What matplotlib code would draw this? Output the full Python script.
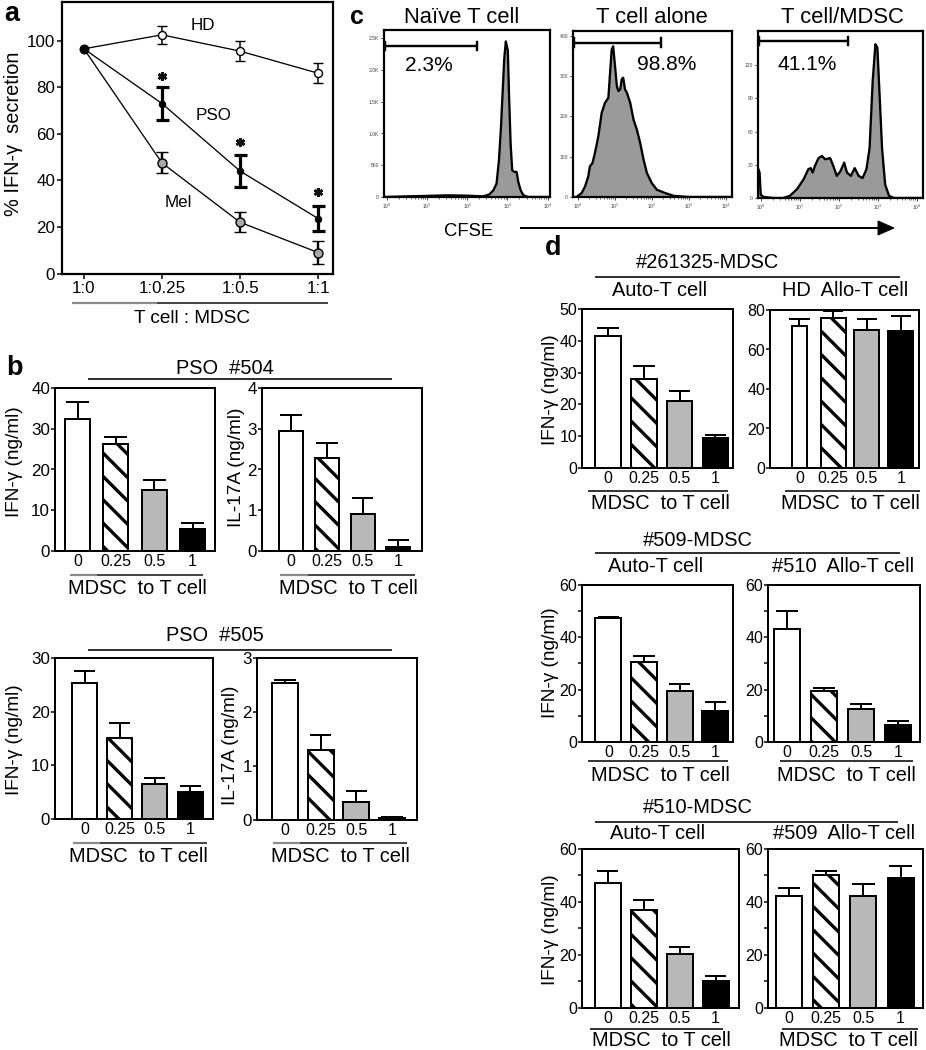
import matplotlib
matplotlib.use('Agg')
import matplotlib.pyplot as plt
from matplotlib.lines import Line2D
from matplotlib.patches import Polygon
import numpy as np

# ---------------- data ----------------
# panel a
a_ratio_labels = ['1:0', '1:0.25', '1:0.5', '1:1']
a_hd = [96.5, 102.5, 95.5, 86.0]
a_hd_err = [0, 4.0, 4.2, 4.3]
a_pso = [96.5, 73.0, 44.0, 23.6]
a_pso_err = [0, 7.0, 6.9, 5.2]
a_mel = [96.5, 47.5, 22.0, 9.0]
a_mel_err = [0, 4.5, 4.3, 5.0]
a_star_x = [1, 2, 3]
a_star_y = [84.7, 56.5, 35.0]

# panel b  (MDSC : T cell ratio)
ratio_labels = ['0', '0.25', '0.5', '1']
b504_ifn = [32.4, 26.2, 15.0, 5.3]
b504_ifn_err = [4.2, 1.8, 2.4, 1.5]
b504_il17 = [2.94, 2.27, 0.92, 0.10]
b504_il17_err = [0.40, 0.39, 0.37, 0.18]
b505_ifn = [25.3, 15.1, 6.6, 5.1]
b505_ifn_err = [2.2, 2.8, 1.0, 1.1]
b505_il17 = [2.53, 1.30, 0.34, 0.04]
b505_il17_err = [0.07, 0.28, 0.19, 0.02]

# panel d
d261325_auto = [41.6, 28.0, 21.1, 9.4]
d261325_auto_err = [2.4, 4.2, 3.0, 1.1]
d261325_allo = [71.7, 76.0, 70.0, 69.2]
d261325_allo_err = [3.9, 3.3, 5.6, 7.6]
d509_auto = [47.2, 30.6, 19.5, 11.8]
d509_auto_err = [0.6, 2.1, 2.8, 3.5]
d509_allo = [43.3, 19.4, 12.5, 6.4]
d509_allo_err = [6.7, 1.4, 2.2, 1.5]
d510_auto = [47.2, 37.1, 20.5, 10.3]
d510_auto_err = [4.4, 3.8, 2.5, 1.6]
d510_allo = [42.1, 50.3, 42.1, 49.0]
d510_allo_err = [3.2, 1.5, 4.7, 4.4]

# panel c  CFSE histograms (log10 fluorescence, event counts)
c_titles = ['Naïve T cell', 'T cell alone', 'T cell/MDSC']
c_percent = ['2.3%', '98.8%', '41.1%']
c1_logx = [-0.07, 1.5, 2.0, 2.4, 2.55, 2.65, 2.73, 2.79, 2.84, 2.88, 2.92, 2.96,
           3.01, 3.04, 3.08, 3.12, 3.17, 3.23, 3.27, 3.33, 3.40, 3.52, 4.06]
c1_count = [0, 26, 21, 10, 40, 105, 210, 580, 1100, 1630, 2160, 2450,
            2310, 1630, 840, 420, 395, 395, 240, 105, 26, 0, 0]
c2_logx = [-0.13, -0.04, 0.10, 0.19, 0.28, 0.32, 0.39, 0.46, 0.55, 0.64, 0.73, 0.82,
           0.86, 0.91, 0.95, 1.00, 1.05, 1.09, 1.14, 1.18, 1.22, 1.27, 1.32, 1.41,
           1.50, 1.59, 1.68, 1.77, 1.86, 1.99, 2.13, 2.35, 2.58, 3.00, 4.16]
c2_count = [0, 0, 10, 26, 52, 76, 84, 110, 151, 209, 234, 246,
            300, 366, 374, 325, 275, 263, 267, 292, 296, 267, 259, 234,
            192, 167, 134, 93, 60, 35, 18, 10, 3, 0, 0]
c3_logx = [-0.08, -0.04, -0.01, 0.06, 0.32, 0.57, 0.74, 0.92, 1.09, 1.21, 1.27, 1.32,
           1.38, 1.47, 1.56, 1.64, 1.77, 1.85, 1.94, 2.03, 2.13, 2.20, 2.30, 2.40,
           2.50, 2.60, 2.70, 2.78, 2.86, 2.93, 2.98, 3.04, 3.10, 3.18, 3.28, 3.40, 4.15]
c3_count = [27, 23, 3, 1, 0, 0, 2, 8, 17, 26, 27, 23,
            29, 36, 38, 35, 36, 29, 20, 24, 32, 23, 20, 27,
            20, 18, 26, 45, 106, 139, 136, 91, 45, 12, 2, 0, 0]
c1_yticks = [0, 500, 1000, 1500, 2000, 2500]
c1_yticklabels = ['0', '500', '1.0K', '1.5K', '2.0K', '2.5K']
c2_yticks = [0, 100, 200, 300, 400]
c3_yticks = [0, 30, 60, 90, 120]
c_gates = [(-0.04, 2.24), (-0.11, 2.24), (-0.05, 2.23)]

# ---------------- helpers ----------------
W, H = 926, 1050
DPI = 70


def pt(px):
    return px * 72.0 / DPI


plt.rcParams['font.family'] = ['Liberation Sans', 'DejaVu Sans']
plt.rcParams['hatch.linewidth'] = pt(3.3)
plt.rcParams['hatch.color'] = 'black'
plt.rcParams['axes.linewidth'] = pt(2)
plt.rcParams['mathtext.default'] = 'regular'

fig = plt.figure(figsize=((W + 0.01) / DPI, (H + 0.01) / DPI), dpi=DPI)
fig.patch.set_facecolor('white')


def add_ax(l, t, r, b):
    return fig.add_axes([l / W, 1 - b / H, (r - l) / W, (b - t) / H])


def ftext(x, y, s, px, ha='center', va='center', **kw):
    fig.text(x / W, 1 - y / H, s, fontsize=pt(px), ha=ha, va=va, **kw)


def fline(x0, x1, y, color='black', lw=1.6):
    fig.add_artist(Line2D([x0 / W, x1 / W], [1 - y / H, 1 - y / H],
                          color=color, lw=pt(lw), solid_capstyle='butt'))


def ratio_rule(x0, xg, x1, y, gray=True):
    if gray:
        fline(x0, xg, y, color='#8a8a8a', lw=2.2)
        fline(xg, x1, y, color='#333333', lw=1.8)
    else:
        fline(x0, x1, y, color='#222222', lw=1.8)


bar_faces = ['white', 'white', '#b8b8b8', 'black']
bar_hatches = ['', '\\', '', '']


def bar_panel(box, xlim, width, vals, errs, ylim, yticks, minor=None,
              tick_px=16, ytick_px=17):
    ax = add_ax(*box)
    x = np.arange(len(vals))
    w = np.broadcast_to(np.asarray(width, dtype=float), x.shape)
    bars = ax.bar(x, vals, width=w, color=bar_faces, edgecolor='black',
                  linewidth=pt(2), zorder=2)
    for p, h in zip(bars, bar_hatches):
        p.set_hatch(h)
    v = np.asarray(vals)
    e = np.asarray(errs)
    capw = 0.30
    ax.vlines(x, v, v + e, color='black', lw=pt(2), zorder=3)
    ax.hlines(v + e, x - capw, x + capw, color='black', lw=pt(2), zorder=3)
    ax.set_xlim(*xlim)
    ax.set_ylim(*ylim)
    ax.set_xticks(x, ratio_labels)
    ax.set_yticks(yticks, [str(t) for t in yticks])
    if minor is not None:
        ax.set_yticks(minor, minor=True)
    ax.tick_params(axis='x', length=0, pad=pt(3), labelsize=pt(tick_px))
    ax.tick_params(axis='y', which='both', direction='out', length=pt(4),
                   width=pt(1.5), pad=pt(1), labelsize=pt(ytick_px))
    for s in ax.spines.values():
        s.set_linewidth(pt(2))
    return ax


def hist_panel(box, logx, counts, xlim, ymax, yticks, ylabels, gate, gate_y,
               pct, pct_pos):
    ax = add_ax(*box)
    ax.fill_between(logx, counts, 0, color='#9a9a9a', lw=0, zorder=1)
    ax.plot(logx, counts, color='black', lw=pt(2.3), zorder=2,
            solid_joinstyle='round')
    ax.set_xlim(*xlim)
    ax.set_ylim(0, ymax)
    ax.set_xticks(range(5), ['$10^{%d}$' % k for k in range(5)])
    ax.set_xticks([k + np.log10(m) for k in range(4) for m in range(2, 10)],
                  minor=True)
    ax.set_yticks(yticks, ylabels)
    ax.tick_params(axis='both', which='major', length=pt(3), width=pt(1),
                   labelsize=pt(5), pad=pt(2), colors='#444444')
    ax.tick_params(axis='x', which='minor', length=pt(1.5), width=pt(0.8),
                   color='#444444')
    for s in ax.spines.values():
        s.set_linewidth(pt(2.2))
    tr = ax.get_xaxis_transform()
    ax.plot(gate, [gate_y, gate_y], color='black', lw=pt(2.4), transform=tr,
            solid_capstyle='butt', zorder=4)
    for gx in gate:
        ax.plot([gx, gx], [gate_y - 0.025, gate_y + 0.025], color='black',
                lw=pt(2.4), transform=tr, zorder=4)
    ax.text(pct_pos[0], pct_pos[1], pct, transform=ax.transAxes,
            fontsize=pt(21), ha='center', va='center')
    return ax


# ---------------- panel a ----------------
axa = add_ax(62, 2, 333, 274)
xa = np.arange(len(a_ratio_labels))
for vals in (a_hd, a_pso, a_mel):
    axa.plot(xa, vals, color='black', lw=pt(1.3), zorder=2)
axa.errorbar(xa[1:], a_hd[1:], yerr=a_hd_err[1:], fmt='o', ms=pt(8),
             mfc='white', mec='black', mew=pt(1.4), ecolor='black',
             elinewidth=pt(1.5), capsize=pt(5), capthick=pt(1.5), zorder=3)
axa.errorbar(xa[1:], a_mel[1:], yerr=a_mel_err[1:], fmt='o', ms=pt(9),
             mfc='#a8a8a8', mec='black', mew=pt(1.4), ecolor='black',
             elinewidth=pt(2.4), capsize=pt(6), capthick=pt(2.4), zorder=3)
axa.errorbar(xa[1:], a_pso[1:], yerr=a_pso_err[1:], fmt='o', ms=pt(6.5),
             mfc='black', mec='black', ecolor='black',
             elinewidth=pt(3.2), capsize=pt(6.5), capthick=pt(3.2), zorder=4)
axa.plot(xa[:1], a_pso[:1], 'o', color='black', ms=pt(9), zorder=5)
axa.plot(a_star_x, a_star_y, ls='none', marker=(6, 2, 0), ms=pt(9),
         mew=pt(2.6), color='#111111', zorder=5)
axa.text(1.53, 106.5, 'HD', fontsize=pt(17), ha='center', va='center')
axa.text(1.66, 68.0, 'PSO', fontsize=pt(17), ha='center', va='center')
axa.text(1.21, 30.5, 'Mel', fontsize=pt(17), ha='center', va='center')
axa.set_xlim(-0.28, 3.19)
axa.set_ylim(-0.2, 116.6)
axa.set_xticks(xa, a_ratio_labels)
axa.set_yticks(range(0, 101, 20))
axa.tick_params(axis='both', direction='out', length=pt(5), width=pt(1.5),
                labelsize=pt(17), pad=pt(2))
for s in axa.spines.values():
    s.set_linewidth(pt(2.2))

ftext(12, 14, 'a', 27, weight='bold')
ftext(13, 134, '% IFN-γ  secretion', 20, rotation=90)
ratio_rule(72, 157, 328, 303)
ftext(192, 318, 'T cell : MDSC', 19)

# ---------------- panel c ----------------
ftext(357, 17, 'c', 25, weight='bold')
hist_panel((384, 30, 550, 197), c1_logx, c1_count, (-0.07, 4.06), 2630,
           c1_yticks, c1_yticklabels, c_gates[0], 0.906, c_percent[0],
           (0.27, 0.79))
hist_panel((573, 31, 732, 197), c2_logx, c2_count, (-0.135, 4.16), 412,
           c2_yticks, [str(t) for t in c2_yticks], c_gates[1], 0.93,
           c_percent[1], (0.59, 0.80))
hist_panel((758, 31, 923, 198), c3_logx, c3_count, (-0.08, 4.15), 151,
           c3_yticks, [str(t) for t in c3_yticks], c_gates[2], 0.94,
           c_percent[2], (0.30, 0.80))
for x, t in zip((462, 652, 842), c_titles):
    ftext(x, 17, t, 22)
ftext(469, 231, 'CFSE', 18.5)
fline(520, 880, 228, lw=2)
fig.add_artist(Polygon([[878 / W, 1 - 221 / H], [878 / W, 1 - 235 / H],
                        [894 / W, 1 - 228 / H]], closed=True,
                       transform=fig.transFigure, color='black'))

# ---------------- panel b ----------------
ftext(14, 368, 'b', 27, weight='bold')
ftext(225, 368, 'PSO  #504', 20)
fline(88, 392, 379)
bar_panel((55, 388, 215, 551), (-0.587, 3.587), 0.65, b504_ifn, b504_ifn_err,
          (0, 40), [0, 10, 20, 30, 40])
bar_panel((262, 388, 422, 551), (-0.81, 3.66), 0.67, b504_il17, b504_il17_err,
          (0, 4), [0, 1, 2, 3, 4])
ftext(14, 462, 'IFN-γ (ng/ml)', 19, rotation=90)
ftext(236, 467, 'IL-17A (ng/ml)', 19, rotation=90)
ratio_rule(70, 97, 203, 575)
ratio_rule(280, 308, 415, 575)
ftext(137, 588, 'MDSC  to T cell', 20)
ftext(348, 588, 'MDSC  to T cell', 20)

ftext(215, 635, 'PSO  #505', 20)
fline(88, 392, 650)
bar_panel((55, 658, 213, 819), (-0.84, 3.65), 0.71, b505_ifn, b505_ifn_err,
          (0, 30), [0, 10, 20, 30])
bar_panel((257, 658, 417, 820), (-0.79, 3.70), 0.73, b505_il17, b505_il17_err,
          (0, 3), [0, 1, 2, 3])
ftext(14, 740, 'IFN-γ (ng/ml)', 19, rotation=90)
ftext(230, 745, 'IL-17A (ng/ml)', 19, rotation=90)
ratio_rule(73, 100, 207, 843)
ratio_rule(273, 300, 407, 843)
ftext(138, 856, 'MDSC  to T cell', 20)
ftext(340, 856, 'MDSC  to T cell', 20)

# ---------------- panel d ----------------
ftext(553, 248, 'd', 27, weight='bold')

# #261325
ftext(707, 262, '#261325-MDSC', 20)
fline(595, 900, 277)
ftext(660, 290, 'Auto-T cell', 20)
ftext(845, 290, 'HD  Allo-T cell', 20)
bar_panel((582, 309, 733, 468), (-0.73, 3.49), 0.71, d261325_auto,
          d261325_auto_err, (0, 50), [0, 10, 20, 30, 40, 50], ytick_px=16)
bar_panel((770, 310, 919, 468), (-0.87, 3.54), [0.43, 0.74, 0.74, 0.74],
          d261325_allo, d261325_allo_err, (0, 80), [0, 20, 40, 60, 80],
          ytick_px=16)
ftext(550, 390, 'IFN-γ (ng/ml)', 19, rotation=90)
ratio_rule(588, 0, 728, 491, gray=False)
ratio_rule(785, 0, 920, 491, gray=False)
ftext(660, 503, 'MDSC  to T cell', 20)
ftext(850, 503, 'MDSC  to T cell', 20)

# #509
ftext(698, 540, '#509-MDSC', 20)
fline(595, 900, 553)
ftext(656, 566, 'Auto-T cell', 20)
ftext(843, 566, '#510  Allo-T cell', 20)
bar_panel((582, 585, 733, 742), (-0.74, 3.50), 0.73, d509_auto, d509_auto_err,
          (0, 60), [0, 20, 40, 60], minor=[10, 30, 50], ytick_px=16)
bar_panel((768, 585, 920, 742), (-0.51, 3.59), 0.72, d509_allo, d509_allo_err,
          (0, 60), [0, 20, 40, 60], minor=[10, 30, 50], ytick_px=16)
ftext(550, 663, 'IFN-γ (ng/ml)', 19, rotation=90)
ratio_rule(588, 0, 728, 761, gray=False)
ratio_rule(780, 0, 913, 761, gray=False)
ftext(660, 775, 'MDSC  to T cell', 20)
ftext(846, 775, 'MDSC  to T cell', 20)

# #510
ftext(698, 807, '#510-MDSC', 20)
fline(595, 898, 822)
ftext(658, 833, 'Auto-T cell', 20)
ftext(844, 833, '#509  Allo-T cell', 20)
bar_panel((582, 849, 739, 1008), (-0.71, 3.65), 0.72, d510_auto, d510_auto_err,
          (0, 60), [0, 20, 40, 60], minor=[10, 30, 50], ytick_px=16)
bar_panel((768, 849, 923, 1008), (-0.56, 3.60), 0.70, d510_allo, d510_allo_err,
          (0, 60), [0, 20, 40, 60], minor=[10, 30, 50], ytick_px=16)
ftext(550, 930, 'IFN-γ (ng/ml)', 19, rotation=90)
ratio_rule(590, 0, 723, 1029, gray=False)
ratio_rule(782, 0, 918, 1029, gray=False)
ftext(661, 1040, 'MDSC  to T cell', 20)
ftext(848, 1040, 'MDSC  to T cell', 20)

fig.savefig('out.png', dpi=DPI, facecolor='white')
